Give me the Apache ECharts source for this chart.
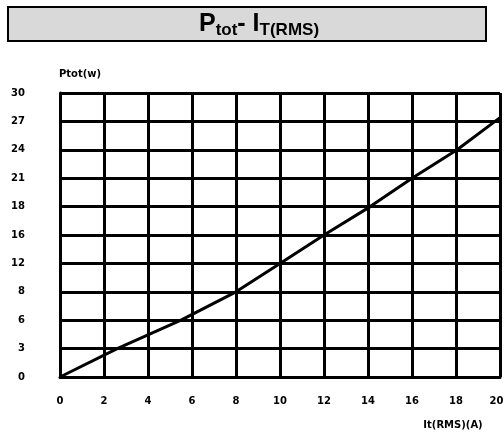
<!DOCTYPE html>
<html><head><meta charset="utf-8">
<script src="https://cdn.jsdelivr.net/npm/echarts@6/dist/echarts.min.js"></script>
<style>html,body{margin:0;padding:0;background:#fff}#c{width:504px;height:437px}</style>
</head><body><div id="c"></div>
<script>
// Y tick labels (evenly spaced gridlines, non-uniform labels as in the reference)
var yTickLabels = [0, 3, 6, 8, 12, 16, 18, 21, 24, 27, 30];
// X ticks
var xMin = 0, xMax = 20, xStep = 2;
// Curve readings: It(RMS) [A] and Ptot [W] (read at grid crossings)
var itRms = [0, 2.6, 5.5, 8, 10, 12, 14.1, 16, 18.05, 20];
var ptot  = [0, 3, 6, 8, 12, 16, 18, 21, 24, 27.4];

// map a Ptot value to the position on the evenly spaced (non-linear) axis
function toIdx(v){
  for (var i = 0; i < yTickLabels.length - 1; i++){
    var a = yTickLabels[i], b = yTickLabels[i+1];
    if (v <= b) return i + (v - a) / (b - a);
  }
  return yTickLabels.length - 1;
}
var seriesData = itRms.map(function(x, i){ return [x, toIdx(ptot[i])]; });

var lab = {color:'#000', fontFamily:'DejaVu Sans', fontWeight:'bold', fontSize:10};
var chart = echarts.init(document.getElementById('c'), null, {renderer:'canvas'});
chart.setOption({
  animation:false,
  backgroundColor:'#fff',
  grid:{left:60, right:4, top:93, bottom:60, containLabel:false, outerBoundsMode:'none'},
  xAxis:{type:'value', min:xMin, max:xMax, interval:xStep,
    axisLine:{show:true, lineStyle:{color:'#000', width:3}},
    axisTick:{show:false},
    axisLabel:Object.assign({margin:19,
      formatter:function(v){ return v === xMax ? '{r|' + v + '}' : String(v); },
      rich:{r:{color:'#000', fontFamily:'DejaVu Sans', fontWeight:'bold', fontSize:10, padding:[0,7,0,0]}}
    }, lab),
    splitLine:{show:true, lineStyle:{color:'#000', width:3}}
  },
  yAxis:{type:'value', min:0, max:yTickLabels.length-1, interval:1,
    axisLine:{show:true, lineStyle:{color:'#000', width:3}},
    axisTick:{show:false},
    axisLabel:Object.assign({margin:35, formatter:function(v){ return String(yTickLabels[Math.round(v)]); }}, lab),
    splitLine:{show:true, lineStyle:{color:'#000', width:3}}
  },
  graphic:[
    {type:'rect', shape:{x:8, y:7, width:478, height:34}, style:{fill:'#d9d9d9', stroke:'#000', lineWidth:2}, z:0},
    {type:'text', x:259, y:25, z:1, style:{
      text:'{a|P}{b|tot}{a|- I}{b|T(RMS)}', align:'center', verticalAlign:'middle',
      rich:{
        a:{fontFamily:'Liberation Sans', fontWeight:'bold', fontSize:25, fill:'#000', verticalAlign:'bottom', padding:[0,0,2,0]},
        b:{fontFamily:'Liberation Sans', fontWeight:'bold', fontSize:17, fill:'#000', verticalAlign:'bottom'}
      }}},
    {type:'text', x:59, y:74, style:{text:'Ptot(w)', fill:'#000', font:'bold 10px "DejaVu Sans"', align:'left', verticalAlign:'middle'}},
    {type:'text', x:453, y:425, style:{text:'It(RMS)(A)', fill:'#000', font:'bold 10px "DejaVu Sans"', align:'center', verticalAlign:'middle'}}
  ],
  series:[{type:'line', data:seriesData, showSymbol:false, symbol:'none',
    lineStyle:{color:'#000', width:3}, z:5}]
});
</script></body></html>
